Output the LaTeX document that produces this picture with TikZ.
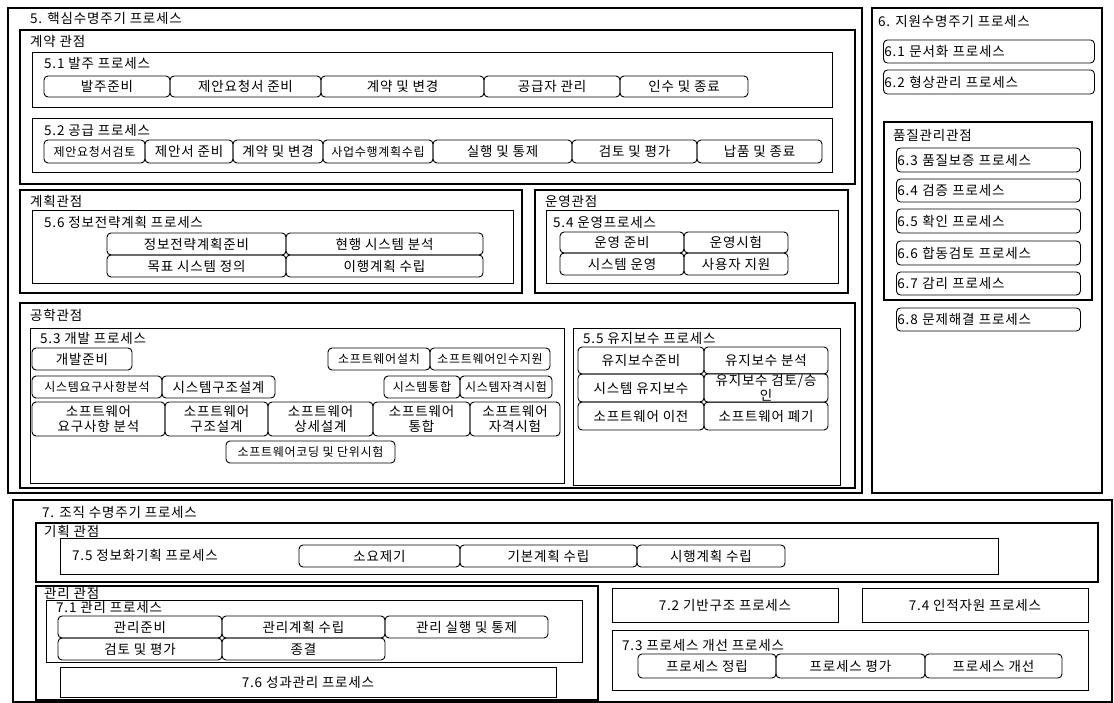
\documentclass[tikz,border=0pt]{standalone}
\usepackage{fontspec}
\setmainfont[LetterSpace=6]{Noto Sans CJK KR}
\usetikzlibrary{positioning}

% box with rounded corners, from corner (#3,#4) to (#5,#6)
\newcommand{\pbox}[7][]{%
  \node[item, #1, minimum width={(#5-#3)*1pt}, minimum height={(#6-#4)*1pt}]
    (#2) at ({(#3+#5)/2},{(#4+#6)/2}) {#7};}
% box with its text on the left
\newcommand{\lbox}[6]{%
  \node[item, anchor=west, align=left, text width={(#4-#2-5)*1pt},
    minimum height={(#5-#3)*1pt}] (#1) at (#2,{(#3+#5)/2}) {#6};}

\tikzset{
  frame/.style={draw, line width=2.4pt},
  subframe/.style={draw, line width=0.9pt},
  item/.style={draw, line width=0.9pt, rounded corners=4pt, inner sep=1pt,
    align=center, font=\fontsize{13.5}{15}\selectfont},
  tight/.style={font=\fontsize{12}{14}\selectfont},
  title/.style={anchor=west, inner sep=0pt, font=\fontsize{13.5}{15}\selectfont},
}

\begin{document}
\begin{tikzpicture}[x=1pt, y=-1pt]
\useasboundingbox (0,0) rectangle (1114,703);

% 5. core processes
\draw[frame] (8,8) rectangle (862,493);
\node[title] (t5) at (30,18) {5. 핵심수명주기 프로세스};

\draw[frame] (20,30) rectangle (855,184);
\node[title] (tcontract) at (30,41) {계약 관점};

\draw[subframe] (32,52) rectangle (832,107);
\node[title] (t51) at (44,63) {5.1 발주 프로세스};
\pbox{ord1}{44}{76}{170}{97}{발주준비}
\pbox{ord2}{170}{76}{321}{97}{제안요청서 준비}
\pbox{ord3}{321}{76}{484}{97}{계약 및 변경}
\pbox{ord4}{484}{76}{620}{97}{공급자 관리}
\pbox{ord5}{620}{76}{748}{97}{인수 및 종료}

\draw[subframe] (32,118) rectangle (832,172);
\node[title] (t52) at (44,130) {5.2 공급 프로세스};
\pbox[tight]{sup1}{44}{140}{145}{163}{제안요청서검토}
\pbox{sup2}{145}{140}{233}{163}{제안서 준비}
\pbox{sup3}{233}{140}{323}{163}{계약 및 변경}
\pbox[tight]{sup4}{323}{140}{433}{163}{사업수행계획수립}
\pbox{sup5}{433}{140}{572}{163}{실행 및 통제}
\pbox{sup6}{572}{140}{697}{163}{검토 및 평가}
\pbox{sup7}{697}{140}{822}{163}{납품 및 종료}

\draw[frame] (20,190) rectangle (522,293);
\node[title] (tplan) at (30,201) {계획관점};
\draw[subframe] (32,210) rectangle (513,283);
\node[title] (t56) at (44,222) {5.6 정보전략계획 프로세스};
\pbox{isp1}{107}{233}{286}{255}{정보전략계획준비}
\pbox{isp2}{286}{233}{483}{255}{현행 시스템 분석}
\pbox{isp3}{107}{255}{286}{277}{목표 시스템 정의}
\pbox{isp4}{286}{255}{483}{277}{이행계획 수립}

\draw[frame] (535,190) rectangle (848,293);
\node[title] (toper) at (545,201) {운영관점};
\draw[subframe] (546,210) rectangle (838,283);
\node[title] (t54) at (553,222) {5.4 운영프로세스};
\pbox{opr1}{560}{232}{684}{253}{운영 준비}
\pbox{opr2}{684}{232}{788}{253}{운영시험}
\pbox{opr3}{560}{253}{684}{275}{시스템 운영}
\pbox{opr4}{684}{253}{788}{275}{사용자 지원}

\draw[frame] (20,303) rectangle (855,488);
\node[title] (teng) at (30,315) {공학관점};
\draw[subframe] (30,328) rectangle (564,483);
\node[title] (t53) at (40,338) {5.3 개발 프로세스};
\pbox{dev1}{32}{348}{132}{370}{개발준비}
\pbox[tight]{dev2}{328}{348}{430}{370}{소프트웨어설치}
\pbox[tight]{dev3}{430}{348}{550}{370}{소프트웨어인수지원}
\pbox[tight]{dev4}{32}{376}{162}{398}{시스템요구사항분석}
\pbox{dev5}{162}{376}{275}{398}{시스템구조설계}
\pbox[tight]{dev6}{384}{376}{460}{398}{시스템통합}
\pbox[tight]{dev7}{460}{376}{552}{398}{시스템자격시험}
\pbox{dev8}{32}{402}{165}{436}{소프트웨어\\요구사항 분석}
\pbox{dev9}{165}{402}{268}{436}{소프트웨어\\구조설계}
\pbox{dev10}{268}{402}{373}{436}{소프트웨어\\상세설계}
\pbox{dev11}{373}{402}{470}{436}{소프트웨어\\통합}
\pbox{dev12}{470}{402}{560}{436}{소프트웨어\\자격시험}
\pbox[tight]{dev13}{226}{441}{395}{463}{소프트웨어코딩 및 단위시험}

\draw[subframe] (573,328) rectangle (840,485);
\node[title] (t55) at (583,338) {5.5 유지보수 프로세스};
\pbox{mnt1}{578}{347}{704}{374}{유지보수준비}
\pbox{mnt2}{704}{347}{828}{374}{유지보수 분석}
\pbox{mnt3}{578}{374}{704}{402}{시스템 유지보수}
\pbox[font=\fontsize{13.5}{13}\selectfont]{mnt4}{704}{374}{828}{402}{유지보수 검토/승\\인}
\pbox{mnt5}{578}{402}{704}{430}{소프트웨어 이전}
\pbox{mnt6}{704}{402}{828}{430}{소프트웨어 폐기}

% 6. supporting processes
\draw[frame] (872,8) rectangle (1102,493);
\node[title] (t6) at (878,21) {6. 지원수명주기 프로세스};
\lbox{s61}{883}{40}{1097}{63}{6.1 문서화 프로세스}
\lbox{s62}{883}{70}{1097}{94}{6.2 형상관리 프로세스}
\draw[frame] (884,122) rectangle (1092,300);
\node[title] (tqual) at (893,135) {품질관리관점};
\lbox{s63}{896}{148}{1083}{172}{6.3 품질보증 프로세스}
\lbox{s64}{896}{179}{1083}{202}{6.4 검증 프로세스}
\lbox{s65}{896}{209}{1083}{233}{6.5 확인 프로세스}
\lbox{s66}{896}{241}{1083}{265}{6.6 합동검토 프로세스}
\lbox{s67}{896}{272}{1083}{295}{6.7 감리 프로세스}
\lbox{s68}{896}{308}{1083}{331}{6.8 문제해결 프로세스}

% 7. organizational processes
\draw[frame] (13,500) rectangle (1112,702);
\node[title] (t7) at (42,512) {7. 조직 수명주기 프로세스};

\draw[frame] (36,523) rectangle (1098,582);
\node[title] (torgplan) at (44,531) {기획 관점};
\draw[subframe] (60,538) rectangle (998,574);
\node[title] (t75) at (72,555) {7.5 정보화기획 프로세스};
\pbox{plan1}{299}{545}{460}{567}{소요제기}
\pbox{plan2}{460}{545}{637}{567}{기본계획 수립}
\pbox{plan3}{637}{545}{785}{567}{시행계획 수립}

\draw[frame] (36,586) rectangle (598,700);
\node[title] (torgmgt) at (44,593) {관리 관점};
\draw[subframe] (46,600) rectangle (582,662);
\node[title] (t71) at (56,607) {7.1 관리 프로세스};
\pbox{mgt1}{58}{616}{222}{638}{관리준비}
\pbox{mgt2}{222}{616}{385}{638}{관리계획 수립}
\pbox{mgt3}{385}{616}{548}{638}{관리 실행 및 통제}
\pbox{mgt4}{58}{638}{222}{660}{검토 및 평가}
\pbox{mgt5}{222}{638}{385}{660}{종결}
\pbox[subframe, rounded corners=0pt]{p76}{60}{667}{556}{697}{7.6 성과관리 프로세스}

\pbox[subframe, rounded corners=0pt]{p72}{612}{588}{838}{622}{7.2 기반구조 프로세스}
\pbox[subframe, rounded corners=0pt]{p74}{862}{588}{1088}{622}{7.4 인적자원 프로세스}

\draw[subframe] (612,630) rectangle (1088,690);
\node[title] (t73) at (622,645) {7.3 프로세스 개선 프로세스};
\pbox{imp1}{638}{654}{776}{678}{프로세스 정립}
\pbox{imp2}{776}{654}{925}{678}{프로세스 평가}
\pbox{imp3}{925}{654}{1062}{678}{프로세스 개선}
\end{tikzpicture}
\end{document}
